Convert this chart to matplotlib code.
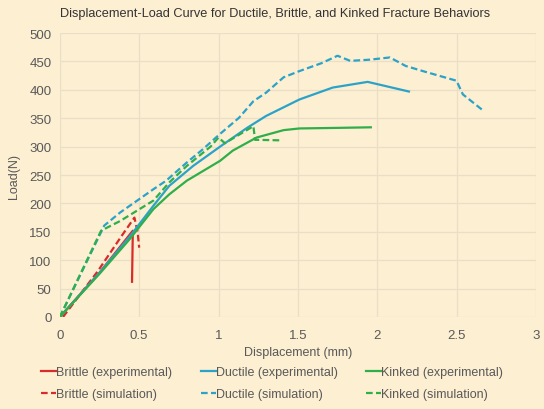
import matplotlib
matplotlib.use("Agg")
from matplotlib import pyplot as plt

# colours
BG = "#fdefd2"
GRID = "#eadfc4"
TEXT = "#595959"
RED = "#d92b2b"
BLUE = "#2ba3c9"
GREEN = "#2fae4a"

# Brittle
brittle_exp_x = [0, 0.25, 0.46, 0.455]
brittle_exp_y = [0, 78, 152, 62]
brittle_sim_x = [0.02, 0.24, 0.39, 0.47, 0.49, 0.50]
brittle_sim_y = [0, 81, 143, 175, 150, 122]

# Ductile
ductile_exp_x = [0, 0.25, 0.45, 0.59, 0.69, 0.84, 1.01, 1.18, 1.3, 1.51, 1.72, 1.94, 2.2]
ductile_exp_y = [0, 78, 145, 196, 231, 266, 300, 333, 354, 383, 404, 414, 397]
ductile_sim_x = [0, 0.28, 0.38, 0.59, 0.67, 0.8, 0.9, 1.0, 1.13, 1.22, 1.3, 1.41, 1.51,
                 1.65, 1.75, 1.83, 1.95, 2.08, 2.18, 2.3, 2.5, 2.54, 2.67]
ductile_sim_y = [0, 161, 184, 225, 240, 272, 295, 320, 351, 380, 395, 422, 433,
                 447, 460, 451, 453, 457, 442, 432, 416, 392, 363]

# Kinked
kinked_exp_x = [0, 0.25, 0.44, 0.59, 0.69, 0.8, 1.01, 1.09, 1.24, 1.41, 1.51, 1.75, 1.96]
kinked_exp_y = [0, 76, 137, 190, 216, 240, 275, 293, 316, 329, 332, 333, 334]
kinked_sim_x = [0, 0.26, 0.38, 0.59, 0.69, 0.8, 0.95, 1.0, 1.04, 1.22, 1.23, 1.4]
kinked_sim_y = [0, 152, 169, 205, 237, 266, 300, 316, 306, 336, 312, 311]

x_ticks = [0, 0.5, 1, 1.5, 2, 2.5, 3]
x_labels = ["0", "0.5", "1", "1.5", "2", "2.5", "3"]
y_ticks = list(range(0, 501, 50))

plt.rcParams["font.family"] = ["Liberation Sans", "DejaVu Sans"]

fig = plt.figure(figsize=(5.44, 4.10), dpi=100, facecolor=BG)
ax = fig.add_axes([0.110, 0.2244, 0.875, 0.6926], facecolor=BG)

dash = (3, 1.5)
lw = 1.6
h_be, = ax.plot(brittle_exp_x, brittle_exp_y, color=RED, lw=lw, label="Brittle (experimental)")
h_bs, = ax.plot(brittle_sim_x, brittle_sim_y, color=RED, lw=lw, dashes=dash, label="Brittle (simulation)")
h_de, = ax.plot(ductile_exp_x, ductile_exp_y, color=BLUE, lw=lw, label="Ductile (experimental)")
h_ds, = ax.plot(ductile_sim_x, ductile_sim_y, color=BLUE, lw=lw, dashes=dash, label="Ductile (simulation)")
h_ke, = ax.plot(kinked_exp_x, kinked_exp_y, color=GREEN, lw=lw, label="Kinked (experimental)")
h_ks, = ax.plot(kinked_sim_x, kinked_sim_y, color=GREEN, lw=lw, dashes=dash, label="Kinked (simulation)")

ax.set_xlim(0, 3)
ax.set_ylim(0, 500)
ax.set_xticks(x_ticks)
ax.set_xticklabels(x_labels)
ax.set_yticks(y_ticks)
ax.grid(True, color=GRID, lw=0.9)
ax.set_axisbelow(True)
for s in ax.spines.values():
    s.set_visible(False)
ax.tick_params(axis="x", length=0, labelsize=9.5, colors=TEXT, pad=9)
ax.tick_params(axis="y", length=0, labelsize=9.5, colors=TEXT, pad=6)

ax.set_xlabel("Displacement (mm)", fontsize=9, color=TEXT, labelpad=3)
ax.set_ylabel("Load(N)", fontsize=9, color=TEXT, labelpad=7)
fig.text(0.505, 0.965, "Displacement-Load Curve for Ductile, Brittle, and Kinked Fracture Behaviors",
         ha="center", va="center", fontsize=9.2, color="#333333")

fig.legend(handles=[h_be, h_bs, h_de, h_ds, h_ke, h_ks], ncol=3, loc="center",
           bbox_to_anchor=(0.5, 0.063), frameon=False, fontsize=9, labelcolor=TEXT,
           handlelength=1.2, handletextpad=0.0, columnspacing=2.3, labelspacing=0.8)

fig.savefig("out.png", dpi=100, facecolor=BG)
